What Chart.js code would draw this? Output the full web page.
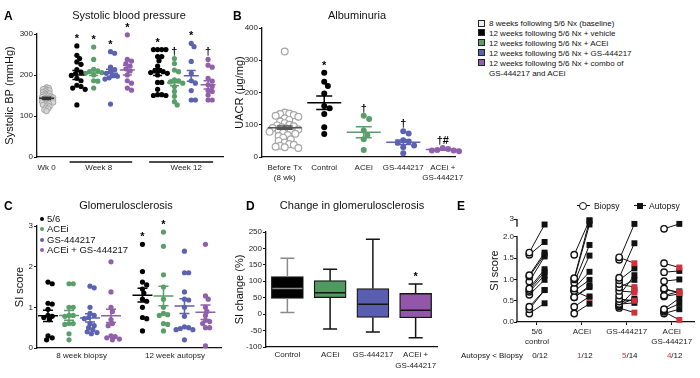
<!DOCTYPE html>
<html>
<head>
<meta charset="utf-8">
<script src="https://cdn.jsdelivr.net/npm/chart.js@4.4.1/dist/chart.umd.min.js"></script>
<style>
body{margin:0;width:700px;height:378px;position:relative;background:#fff;font-family:'Liberation Sans',Arial,sans-serif;color:#111;overflow:hidden}
.box{position:absolute}
.t{position:absolute;font-size:11px;white-space:nowrap;transform:translate(-50%,-50%);color:#111}
.lt{position:absolute;font-size:12px;line-height:12px;font-weight:bold;color:#000}
.lg{position:absolute;font-size:8px;line-height:9.9px;white-space:nowrap;color:#111}
.lg2{position:absolute;font-size:9.5px;line-height:10.3px;white-space:nowrap;color:#111}
.sw{display:inline-block;width:5px;height:5px;border:1px solid #222;margin-right:4px;vertical-align:-0.5px}
.dot{display:inline-block;width:4px;height:4px;border-radius:50%;margin-right:3px;vertical-align:1px}
.el{position:absolute;font-size:8.5px;line-height:10px;white-space:nowrap;color:#111}
</style>
</head>
<body>
<div class="box" style="left:0;top:0;width:228px;height:180px"><canvas id="chartA"></canvas></div>
<div class="box" style="left:230px;top:0;width:240px;height:186px"><canvas id="chartB"></canvas></div>
<div class="box" style="left:0;top:190px;width:228px;height:176px"><canvas id="chartC"></canvas></div>
<div class="box" style="left:228px;top:190px;width:232px;height:188px"><canvas id="chartD"></canvas></div>
<div class="box" style="left:455px;top:190px;width:245px;height:188px"><canvas id="chartE"></canvas></div>

<div class="lt" style="left:4px;top:10px">A</div>
<div class="lt" style="left:233px;top:10px">B</div>
<div class="lt" style="left:4px;top:200px">C</div>
<div class="lt" style="left:246px;top:200px">D</div>
<div class="lt" style="left:457px;top:200px">E</div>

<div class="t" style="left:129px;top:15px">Systolic blood pressure</div>
<div class="t" style="left:357px;top:15px">Albuminuria</div>
<div class="t" style="left:126px;top:205px">Glomerulosclerosis</div>
<div class="t" style="left:352px;top:205px">Change in glomerulosclerosis</div>

<div class="lg" style="left:478px;top:19px">
  <div><i class="sw" style="background:#eee"></i>8 weeks following 5/6 Nx (baseline)</div>
  <div><i class="sw" style="background:#000"></i>12 weeks following 5/6 Nx + vehicle</div>
  <div><i class="sw" style="background:#5a9f6a"></i>12 weeks following 5/6 Nx + ACEi</div>
  <div><i class="sw" style="background:#5b62b0"></i>12 weeks following 5/6 Nx + GS-444217</div>
  <div><i class="sw" style="background:#9060aa"></i>12 weeks following 5/6 Nx + combo of</div>
  <div style="padding-left:11px">GS-444217 and ACEi</div>
</div>

<div class="lg2" style="left:40px;top:214px">
  <div><i class="dot" style="background:#000"></i>5/6</div>
  <div><i class="dot" style="background:#5a9f6a"></i>ACEi</div>
  <div><i class="dot" style="background:#5b62b0"></i>GS-444217</div>
  <div><i class="dot" style="background:#9060aa"></i>ACEi + GS-444217</div>
</div>

<div class="box" style="left:577px;top:205px;width:13px;height:1.4px;background:#111"></div>
<div class="box" style="left:579px;top:202px;width:6px;height:6px;border:1.4px solid #111;border-radius:50%;background:#fff"></div>
<div class="el" style="left:594px;top:201px">Biopsy</div>
<div class="box" style="left:634px;top:205px;width:12px;height:1.4px;background:#111"></div>
<div class="box" style="left:637px;top:203px;width:6px;height:6px;background:#111"></div>
<div class="el" style="left:649px;top:201px">Autopsy</div>

<script>
// ---- Panel A: systolic BP (mmHg)
const bpWk0 = [170, 168, 166, 165, 163, 162, 160, 158, 157, 155, 154, 152, 150, 149, 148, 147, 146, 145, 144, 143,
  142, 141, 140, 139, 138, 137, 136, 135, 134, 133, 132, 130, 128, 127, 125, 123, 120, 118, 115, 112];
const bpWk8Veh = [271, 248, 240, 232, 226, 213, 207, 203, 199, 192, 186, 175, 172, 168, 165, 127];
const bpWk8Acei = [268, 238, 214, 210, 208, 206, 204, 200, 186, 185, 168];
const bpWk8Gs = [257, 253, 219, 213, 208, 204, 200, 197, 193, 190, 129];
const bpWk8Combo = [298, 238, 234, 228, 222, 215, 210, 200, 186, 180, 168, 163];
const bpWk12Veh = [262, 262, 262, 262, 245, 245, 235, 222, 212, 210, 208, 206, 204, 200, 182, 182, 165, 152, 152, 150, 150];
const bpWk12Acei = [240, 228, 212, 208, 188, 186, 183, 180, 172, 160, 148, 135, 127];
const bpWk12Gs = [277, 269, 233, 204, 186, 180, 162, 139, 139];
const bpWk12Combo = [238, 224, 219, 192, 185, 176, 172, 162, 160, 151, 139, 139];
const bpMean = [143, 200, 205, 204, 212, 207, 181, 198, 176];
const bpSem = [3, 11, 6, 10, 12, 8, 7, 13, 10];
const bpMarks = ['', '*', '*', '*', '*', '*', '†', '*', '†'];
const bpXLabels = ['Wk 0', 'Week 8', 'Week 12'];

// ---- Panel B: UACR (ug/mg)
const uacrBefore = [327, 138, 135, 133, 130, 128, 125, 120, 115, 110, 105, 100, 98, 95, 92, 90, 88, 85, 82, 80,
  78, 75, 72, 68, 65, 60, 55, 50, 45, 40, 38, 35, 32, 30, 28];
const uacrControl = [261, 233, 220, 197, 158, 151, 133, 92, 71];
const uacrAcei = [128, 118, 82, 68, 55, 22];
const uacrGs = [80, 73, 52, 48, 44, 36, 30, 12];
const uacrCombo = [28, 25, 22, 20, 20, 18];
const uacrMean = [91, 168, 77, 46, 23];
const uacrSem = [5, 21, 17, 7, 2];
const uacrMarks = ['', '*', '†', '†', '†#'];
const uacrLabels = [['Before Tx', '(8 wk)'], ['Control'], ['ACEi'], ['GS-444217'], ['ACEi +', 'GS-444217']];

// ---- Panel C: SI score
const siBiopsyCtl = [1.62, 1.58, 1.1, 1.08, 0.95, 0.8, 0.78, 0.75, 0.7, 0.3, 0.25, 0.2];
const siBiopsyAcei = [1.58, 1.58, 1.0, 1.0, 0.8, 0.8, 0.78, 0.6, 0.6, 0.58, 0.35, 0.2];
const siBiopsyGs = [1.52, 1.48, 1.0, 0.85, 0.8, 0.75, 0.72, 0.6, 0.55, 0.5, 0.45, 0.4, 0.38, 0.35];
const siBiopsyCombo = [2.12, 1.38, 1.0, 0.9, 0.7, 0.6, 0.55, 0.3, 0.28, 0.25, 0.22, 0.2];
const siAutopsyCtl = [2.55, 1.88, 1.62, 1.55, 1.45, 1.35, 1.2, 1.15, 1.0, 0.75, 0.72, 0.42];
const siAutopsyAcei = [2.85, 2.5, 1.8, 1.5, 1.2, 1.0, 0.85, 0.82, 0.8, 0.6, 0.58, 0.42];
const siAutopsyGs = [2.38, 1.85, 1.85, 1.38, 1.2, 1.18, 1.0, 0.78, 0.52, 0.5, 0.48, 0.45, 0.45, 0.2];
const siAutopsyCombo = [2.55, 1.28, 1.2, 1.0, 0.9, 0.8, 0.68, 0.65, 0.6, 0.5, 0.5, 0.05];
const siMean = [0.79, 0.8, 0.74, 0.79, 1.3, 1.28, 1.03, 0.88];
const siSem = [0.14, 0.12, 0.1, 0.16, 0.17, 0.24, 0.18, 0.18];
const siMarks = ['', '', '', '', '*', '*', '', ''];
const siXLabels = ['8 week biopsy', '12 week autopsy'];

// ---- Panel D: SI change (%) box plots
const dCats = [['Control'], ['ACEi'], ['GS-444217'], ['ACEi +', 'GS-444217']];
const dMin = [5, -45, -54, -72];
const dQ1 = [48, 50, -10, -11];
const dMedian = [78, 65, 30, 12];
const dQ3 = [114, 102, 78, 63];
const dMax = [170, 137, 228, 92];
const dMarks = ['', '', '', '*'];

// ---- Panel E: paired SI scores, biopsy -> autopsy
const ctlBiopsy = [1.63, 1.58, 1.1, 1.07, 0.95, 0.79, 0.75, 0.71, 0.64, 0.36, 0.3, 0.2];
const ctlAutopsy = [2.55, 1.88, 1.63, 1.58, 1.54, 1.24, 1.18, 1.1, 0.99, 0.75, 0.75, 0.44];
const aceiBiopsy = [1.58, 1.03, 1.0, 0.92, 0.79, 0.79, 0.73, 0.58, 0.58, 0.36, 0.2, 0.73];
const aceiAutopsy = [2.9, 2.85, 2.55, 1.81, 1.56, 1.18, 0.99, 0.85, 0.82, 0.6, 0.43, 0.57];
const gsBiopsy = [1.52, 1.46, 1.04, 0.98, 0.89, 0.81, 0.73, 0.62, 0.54, 0.48, 0.42, 0.4, 0.37, 0.33];
const gsAutopsy = [1.38, 2.6, 1.85, 1.26, 0.82, 0.99, 0.7, 1.1, 0.5, 0.52, 0.45, 0.55, 0.75, 0.22];
const comboBiopsy = [2.2, 1.38, 1.17, 0.96, 0.79, 0.76, 0.62, 0.6, 0.3, 0.27, 0.24, 0.2];
const comboAutopsy = [2.6, 1.28, 1.2, 1.0, 0.68, 0.7, 0.72, 0.66, 0.56, 0.43, 0.05, 0.3];
const eLabels = [['5/6', 'control'], ['ACEi'], ['GS-444217'], ['ACEi', 'GS-444217']];

const FONT = "'Liberation Sans', Arial, Helvetica, sans-serif";
Chart.defaults.font.family = FONT;
Chart.defaults.color = '#222';
Chart.defaults.animation = false;
Chart.defaults.plugins.legend.display = false;
Chart.defaults.plugins.tooltip.enabled = false;

const BLACK = '#000', GREEN = '#5a9f6a', BLUE = '#5b62b0', PURPLE = '#9060aa', RED = '#d3303a';

// simple beeswarm: spread points sideways when they would overlap (pixel units)
function swarm(vals, pxY, gap) {
  const order = vals.map((v, i) => i).sort((a, b) => vals[b] - vals[a]);
  const placed = [];
  const offs = vals.map(() => 0);
  order.forEach(i => {
    const y = vals[i] * pxY;
    for (let k = 0; k < 120; k++) {
      const dx = Math.ceil(k / 2) * (k % 2 ? 1 : -1) * gap / 3;
      if (placed.every(p => (p.x - dx) ** 2 + (p.y - y) ** 2 >= gap * gap)) {
        offs[i] = dx;
        placed.push({x: dx, y});
        break;
      }
    }
  });
  return offs;
}

function yAxis(o) {
  return {
    min: o.min, max: o.max,
    afterBuildTicks: o.ticks ? s => { s.ticks = o.ticks.map(v => ({value: v})); } : undefined,
    ticks: {stepSize: o.step, font: {size: 8}, color: '#222', padding: o.labelPad, callback: o.cb},
    grid: {drawOnChartArea: false, drawTicks: true, tickLength: 3, color: '#111', lineWidth: 1},
    border: {display: o.border !== false, color: '#111', width: 1.3},
    title: {display: true, text: o.title, font: {size: 11}, color: '#111', padding: {top: o.titlePad, bottom: 0}},
    afterFit: s => { s.width = o.width; }
  };
}

function xAxis(o) {
  return {
    type: 'linear', min: o.min, max: o.max,
    afterBuildTicks: s => { s.ticks = o.ticks.map(t => ({value: t.v})); },
    ticks: {
      autoSkip: false, maxRotation: 0, minRotation: 0, padding: o.pad,
      font: {size: 8, lineHeight: 1.25}, color: '#222',
      callback: (v, i) => (o.ticks[i] ? o.ticks[i].label : '')
    },
    grid: {drawOnChartArea: false, drawTicks: !!o.tickMarks, tickLength: 3, color: '#111', lineWidth: 1},
    border: {display: true, color: '#111', width: 1.3},
    afterFit: s => { s.height = o.height; }
  };
}

function dotPlot(id, cfg) {
  const datasets = cfg.groups.map(g => {
    const offs = swarm(g.vals, cfg.pxY, g.style.gap);
    return {
      data: g.vals.map((v, i) => ({x: g.x + offs[i] / cfg.pxX, y: v})),
      pointRadius: g.style.r,
      pointBackgroundColor: g.style.fill,
      pointBorderColor: g.style.line,
      pointBorderWidth: g.style.bw,
      clip: false
    };
  });
  const overlay = {
    id: 'meanSem',
    afterDatasetsDraw(chart) {
      const {ctx, chartArea} = chart;
      const x = chart.scales.x, y = chart.scales.y;
      ctx.save();
      cfg.groups.forEach(g => {
        const cx = x.getPixelForValue(g.x);
        const ym = y.getPixelForValue(g.mean);
        const yh = y.getPixelForValue(g.mean + g.sem);
        const yl = y.getPixelForValue(g.mean - g.sem);
        ctx.strokeStyle = g.style.stat;
        ctx.lineWidth = 1.5;
        ctx.beginPath();
        ctx.moveTo(cx - cfg.meanHalf, ym); ctx.lineTo(cx + cfg.meanHalf, ym);
        ctx.moveTo(cx, yh); ctx.lineTo(cx, yl);
        ctx.moveTo(cx - cfg.capHalf, yh); ctx.lineTo(cx + cfg.capHalf, yh);
        ctx.moveTo(cx - cfg.capHalf, yl); ctx.lineTo(cx + cfg.capHalf, yl);
        ctx.stroke();
        if (g.mark) {
          ctx.fillStyle = '#000';
          ctx.font = 'bold 11px ' + FONT;
          ctx.textAlign = 'center';
          ctx.textBaseline = 'alphabetic';
          ctx.fillText(g.mark, cx, y.getPixelForValue(Math.max(...g.vals)) - 4);
        }
      });
      ctx.strokeStyle = '#111';
      ctx.lineWidth = 1.5;
      (cfg.underlines || []).forEach(([a, b]) => {
        ctx.beginPath();
        ctx.moveTo(x.getPixelForValue(a), chartArea.bottom + 5);
        ctx.lineTo(x.getPixelForValue(b), chartArea.bottom + 5);
        ctx.stroke();
      });
      ctx.restore();
    }
  };
  return new Chart(document.getElementById(id), {
    type: 'scatter',
    data: {datasets},
    options: {
      responsive: true, maintainAspectRatio: false, devicePixelRatio: 1,
      layout: {padding: cfg.padding},
      scales: {x: xAxis(cfg.xAxis), y: yAxis(cfg.yAxis)}
    },
    plugins: [overlay]
  });
}

// point styles
const sA = c => ({r: 2.6, fill: c, line: c, bw: 0, gap: 4.2, stat: c});
const grayA = {r: 2.8, fill: '#d6d6d6', line: '#9a9a9a', bw: 0.8, gap: 2.2, stat: '#333'};
const sB = c => ({r: 3, fill: c, line: c, bw: 0, gap: 5.5, stat: c});
const grayB = {r: 3.4, fill: '#fff', line: '#a5a5a5', bw: 1.2, gap: 4.6, stat: '#555'};

// ---- A
const bpSeries = [bpWk0, bpWk8Veh, bpWk8Acei, bpWk8Gs, bpWk8Combo, bpWk12Veh, bpWk12Acei, bpWk12Gs, bpWk12Combo];
const bpX = [0, 1.8, 2.8, 3.8, 4.8, 6.6, 7.6, 8.6, 9.6];
const bpStyles = [grayA, sA(BLACK), sA(GREEN), sA(BLUE), sA(PURPLE), sA(BLACK), sA(GREEN), sA(BLUE), sA(PURPLE)];
dotPlot('chartA', {
  groups: bpSeries.map((vals, i) => ({vals, x: bpX[i], style: bpStyles[i], mean: bpMean[i], sem: bpSem[i], mark: bpMarks[i]})),
  pxX: 17, pxY: 0.41, meanHalf: 7.5, capHalf: 4.5,
  underlines: [[1.37, 5.09], [6.1, 9.9]],
  padding: {top: 34, right: 3, left: 0, bottom: 0},
  xAxis: {min: -0.57, max: 10.5, pad: 6, height: 23,
    ticks: [{v: 0, label: bpXLabels[0]}, {v: 3.1, label: bpXLabels[1]}, {v: 8.3, label: bpXLabels[2]}]},
  yAxis: {min: 0, max: 300, step: 100, title: 'Systolic BP (mmHg)', titlePad: 3.4, labelPad: 1, width: 37}
});

// ---- B
const uacrSeries = [uacrBefore, uacrControl, uacrAcei, uacrGs, uacrCombo];
const uacrStyles = [grayB, sB(BLACK), sB(GREEN), sB(BLUE), sB(PURPLE)];
dotPlot('chartB', {
  groups: uacrSeries.map((vals, i) => ({vals, x: i, style: uacrStyles[i], mean: uacrMean[i], sem: uacrSem[i], mark: uacrMarks[i]})),
  pxX: 40, pxY: 0.3225, meanHalf: 17, capHalf: 8,
  padding: {top: 28, right: 12, left: 0, bottom: 0},
  xAxis: {min: -0.575, max: 4.325, pad: 6, height: 29,
    ticks: uacrLabels.map((label, i) => ({v: i, label}))},
  yAxis: {min: 0, max: 400, step: 100, title: 'UACR (μg/mg)', titlePad: 3.4, labelPad: 1, width: 32}
});

// ---- C
const siSeries = [siBiopsyCtl, siBiopsyAcei, siBiopsyGs, siBiopsyCombo, siAutopsyCtl, siAutopsyAcei, siAutopsyGs, siAutopsyCombo];
const siX = [0, 1, 2, 3, 4.5, 5.5, 6.5, 7.5];
const siStyles = [sA(BLACK), sA(GREEN), sA(BLUE), sA(PURPLE), sA(BLACK), sA(GREEN), sA(BLUE), sA(PURPLE)];
dotPlot('chartC', {
  groups: siSeries.map((vals, i) => ({vals, x: siX[i], style: siStyles[i], mean: siMean[i], sem: siSem[i], mark: siMarks[i]})),
  pxX: 21, pxY: 40.7, meanHalf: 10, capHalf: 5,
  padding: {top: 36, right: 7, left: 0, bottom: 0},
  xAxis: {min: -0.524, max: 8.24, pad: 3, height: 18,
    ticks: [{v: 1.6, label: siXLabels[0]}, {v: 6.05, label: siXLabels[1]}]},
  yAxis: {min: 0, max: 3, step: 1, title: 'SI score', titlePad: 13.4, labelPad: 1, width: 37}
});

// ---- D
const boxFill = [BLACK, '#4f9a60', '#5a5eb1', '#9257a8'];
const boxInk = ['#8a8a8a', '#151515', '#151515', '#151515'];
const boxPlugin = {
  id: 'boxWhiskers',
  afterDatasetsDraw(chart) {
    const {ctx} = chart;
    const x = chart.scales.x, y = chart.scales.y;
    ctx.save();
    ctx.lineWidth = 1.5;
    dMedian.forEach((m, i) => {
      const cx = x.getPixelForValue(i);
      ctx.strokeStyle = boxInk[i];
      ctx.beginPath();
      ctx.moveTo(cx, y.getPixelForValue(dQ3[i])); ctx.lineTo(cx, y.getPixelForValue(dMax[i]));
      ctx.moveTo(cx - 7, y.getPixelForValue(dMax[i])); ctx.lineTo(cx + 7, y.getPixelForValue(dMax[i]));
      ctx.moveTo(cx, y.getPixelForValue(dQ1[i])); ctx.lineTo(cx, y.getPixelForValue(dMin[i]));
      ctx.moveTo(cx - 7, y.getPixelForValue(dMin[i])); ctx.lineTo(cx + 7, y.getPixelForValue(dMin[i]));
      ctx.moveTo(cx - 15, y.getPixelForValue(m)); ctx.lineTo(cx + 15, y.getPixelForValue(m));
      ctx.stroke();
      if (dMarks[i]) {
        ctx.fillStyle = '#000';
        ctx.font = 'bold 11px ' + FONT;
        ctx.textAlign = 'center';
        ctx.fillText(dMarks[i], cx, y.getPixelForValue(dMax[i]) - 4);
      }
    });
    ctx.restore();
  }
};
new Chart(document.getElementById('chartD'), {
  type: 'bar',
  data: {
    labels: dCats,
    datasets: [{
      data: dQ1.map((q, i) => [q, dQ3[i]]),
      backgroundColor: boxFill,
      borderColor: '#151515',
      borderWidth: 1.3,
      borderSkipped: false,
      barThickness: 32
    }]
  },
  options: {
    responsive: true, maintainAspectRatio: false, devicePixelRatio: 1,
    layout: {padding: {top: 42, right: 23, left: 0, bottom: 0}},
    scales: {
      x: {
        type: 'category', offset: true,
        grid: {display: false, drawTicks: false},
        border: {display: true, color: '#111', width: 1.3},
        ticks: {font: {size: 8, lineHeight: 1.3}, color: '#222', padding: 3, maxRotation: 0, autoSkip: false},
        afterFit: s => { s.height = 31; }
      },
      y: yAxis({min: -100, max: 250, step: 50, title: 'SI change (%)', titlePad: 5.4, labelPad: 1, width: 38})
    }
  },
  plugins: [boxPlugin]
});

// ---- E (broken y axis above 2.0)
const toAxis = v => (v <= 2 ? v : 2.19 + (v - 2.2) * 0.2875);
const ePairs = [[ctlBiopsy, ctlAutopsy], [aceiBiopsy, aceiAutopsy], [gsBiopsy, gsAutopsy], [comboBiopsy, comboAutopsy]];
const eDatasets = [];
ePairs.forEach(([bio, aut], g) => {
  bio.forEach((b, i) => {
    const down = aut[i] < b;
    eDatasets.push({
      data: [{x: g - 0.17, y: toAxis(b)}, {x: g + 0.17, y: toAxis(aut[i])}],
      showLine: true,
      borderColor: '#111',
      borderWidth: 1,
      pointStyle: ['circle', 'rect'],
      pointRadius: [3.2, 4.2],
      pointBackgroundColor: ['#fff', down ? RED : '#111'],
      pointBorderColor: ['#111', down ? RED : '#111'],
      pointBorderWidth: [1.4, 0],
      clip: false
    });
  });
});
const ePlugin = {
  id: 'eExtras',
  afterDraw(chart) {
    const {ctx, chartArea} = chart;
    const x = chart.scales.x, y = chart.scales.y;
    ctx.save();
    ctx.strokeStyle = '#111';
    ctx.lineWidth = 1.3;
    ctx.beginPath();
    ctx.moveTo(chartArea.left, chartArea.bottom); ctx.lineTo(chartArea.left, y.getPixelForValue(2.02));
    ctx.moveTo(chartArea.left, y.getPixelForValue(toAxis(3))); ctx.lineTo(chartArea.left, y.getPixelForValue(2.24));
    ctx.stroke();
    ctx.font = '8px ' + FONT;
    ctx.textBaseline = 'middle';
    ctx.textAlign = 'left';
    ctx.fillStyle = '#111';
    ctx.fillText('Autopsy < Biopsy', 6, 166);
    ePairs.forEach(([bio, aut], g) => {
      const n = bio.filter((b, i) => aut[i] < b).length;
      const num = String(n), den = '/' + bio.length;
      const w1 = ctx.measureText(num).width, w2 = ctx.measureText(den).width;
      const sx = x.getPixelForValue(g) + 3 - (w1 + w2) / 2;
      ctx.fillStyle = n > 0 ? RED : '#111';
      ctx.fillText(num, sx, 166);
      ctx.fillStyle = '#111';
      ctx.fillText(den, sx + w1, 166);
    });
    ctx.restore();
  }
};
new Chart(document.getElementById('chartE'), {
  type: 'scatter',
  data: {datasets: eDatasets},
  options: {
    responsive: true, maintainAspectRatio: false, devicePixelRatio: 1,
    layout: {padding: {top: 29, right: 5, left: 0, bottom: 0}},
    scales: {
      x: xAxis({min: -0.444, max: 3.51, pad: 2, height: 56, tickMarks: true,
        ticks: eLabels.map((label, i) => ({v: i, label}))}),
      y: yAxis({min: 0, max: toAxis(3), ticks: [0, 0.5, 1, 1.5, 2, toAxis(3)],
        cb: v => (v > 2.1 ? '3' : v.toFixed(1)), border: false,
        title: 'SI score', titlePad: 33.4, labelPad: 0, width: 62})
    }
  },
  plugins: [ePlugin]
});
</script>
</body>
</html>
